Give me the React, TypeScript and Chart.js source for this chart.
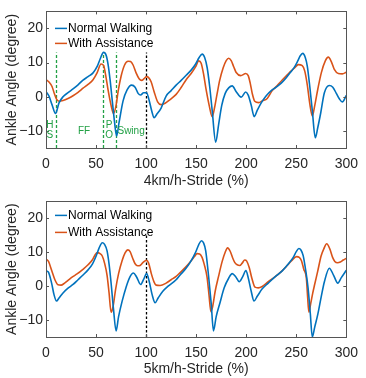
import React, { useEffect, useRef } from 'react';
import { Chart, registerables } from 'chart.js';

Chart.register(...registerables);

// ---------- data ----------
const xTicks = [0, 50, 100, 150, 200, 250, 300];
const yTicks = [-10, 0, 10, 20];
const seriesNames = ['Normal Walking', 'With Assistance'];
const titles = ['4km/h-Stride (%)', '5km/h-Stride (%)'];
const yTitle = 'Ankle Angle (degree)';

// 4 km/h, normal walking
const topNormalX = [0, 3, 6, 9.5, 13, 17, 22, 27, 32, 37, 42, 47, 51, 54, 57.5, 60, 62, 64, 66.5, 68.5, 70.5, 73, 77, 81, 85.5, 89, 92, 94.5, 97.5, 100.5, 103, 105.5, 108, 111, 115, 120, 125, 130, 135, 140, 145, 149.5, 153, 156, 158.5, 161, 163.5, 166, 169.5, 172.5, 175.5, 179, 182.5, 186, 190, 195, 199.5, 202, 205, 208, 211, 215, 220, 225, 230, 235, 240, 244, 248, 251.5, 254, 256.5, 259, 261, 263.5, 266, 269, 271.5, 274.5, 278, 283, 286.5, 290, 293, 296, 300];
const topNormalY = [1.5, 0.2, -2.3, -4.9, -1.8, 0, 1.2, 2.3, 3.5, 4.9, 5.9, 7.0, 8.8, 11, 13, 12.2, 9.5, 5, -2, -7.5, -11.5, -7.5, -1.2, 2, 3.4, 2.8, 1, 0.5, 1.2, 1.2, -1, -4, -6.1, -5, -3.3, 0.2, 1.8, 3.4, 4.8, 6.3, 7.8, 9.6, 11.5, 12.5, 11.5, 8.5, 3, -4, -13.3, -8, -2.6, 1, 2.6, 3.2, 1.5, -0.1, 1.4, 0.5, -2.5, -5.8, -4, -1.8, 0.3, 1.8, 2.8, 4, 5.6, 7.1, 8.6, 10.5, 12, 12.7, 11.5, 9, 3, -4, -12, -9, -4.6, 1.1, 3.3, 2.8, 1, -0.6, -1.5, 0.4];

// 4 km/h, with assistance
const topAssistX = [0, 3, 6, 8.5, 10.5, 13, 17, 22, 27, 32, 37, 42, 47, 51, 55, 57.5, 59.5, 62, 65, 67.5, 70, 72, 75, 78.5, 82, 84.5, 87, 90, 93, 95.5, 98, 100.5, 102.5, 105, 108, 111.5, 115, 119, 124, 130, 135, 140, 145, 149.5, 152.5, 155, 157.5, 160, 163, 166, 168.5, 171, 173.5, 177, 180, 182.5, 185, 187.5, 190, 194.5, 199.5, 202, 204, 206, 208.5, 212.5, 216, 221, 226, 231, 236, 241, 245, 248.5, 252, 256, 258.5, 261, 263.5, 266, 268.5, 271.5, 275, 279, 282, 285, 288, 292, 296, 300];
const topAssistY = [5.0, 4.3, 3, 0.8, -0.7, -1.3, -1.1, -0.5, 0.3, 1.3, 2.5, 3.6, 5.0, 7.0, 9.6, 9.2, 6.5, 2, -2.5, -4.9, -2.5, 1.5, 6, 9.3, 10.4, 10.3, 9.3, 7, 5.3, 4.8, 5.3, 5.9, 5.6, 4.4, 1.5, -1.5, -2.3, -1.9, -0.8, 0.7, 2.7, 5, 6.8, 8.8, 10.5, 9.8, 6.5, 2, -2.5, -5.8, -3, 1, 4.8, 8.5, 10.6, 11.3, 10.6, 8.8, 7.1, 6.2, 6.8, 6.2, 4, 1, -1.3, -1.7, -1.2, -0.5, 1.8, 3.3, 4.9, 6.4, 7.6, 8.5, 9.4, 9.1, 7.5, 3.5, -2, -5.6, -2.5, 2.2, 7, 10.5, 11.6, 10.3, 8, 6.8, 6.7, 7.2];

// 5 km/h, normal walking
const botNormalX = [0, 2.3, 5.6, 8, 10.5, 13, 17, 22, 27, 32, 37, 42, 46.5, 50, 53, 56.2, 58.5, 61, 63, 65, 67.5, 70, 72.5, 76, 80, 84, 87.3, 90.5, 94.5, 97.5, 100.5, 103, 106, 109, 112, 116.7, 122, 129.7, 134, 139.5, 144, 149.3, 152.5, 155.2, 157.5, 159.5, 162.4, 165, 167.3, 170, 173.8, 178, 182.6, 186, 189.5, 193, 196.5, 199.7, 202, 205, 207.8, 211, 216, 222, 229, 236, 242.2, 247, 250, 252.6, 254.8, 256.9, 259.5, 261.8, 264, 266, 268.5, 271.6, 275, 278.1, 283, 287.3, 291.5, 295, 300];
const botNormalY = [4.5, 4.2, 0.9, -2.5, -4.4, -3.5, -2, -0.6, 0.5, 1.9, 3.3, 4.8, 6.6, 8.8, 11.2, 12.8, 12.3, 10.4, 6.5, 1, -7, -13.2, -9, -4.5, -0.3, 2.8, 3.9, 2.7, 0.5, 2, 3.7, 1.5, -2.5, -4.9, -3.5, -1.5, 0, 1.8, 3.3, 5.1, 7, 9.9, 12.2, 13.4, 12.7, 10.5, 3, -5, -13.2, -9, -4.9, -0.5, 2.4, 3.7, 2.8, 1.3, 2.8, 4.6, 2.5, -1.5, -4.4, -3, -0.8, 0.9, 2.8, 4.5, 6.6, 8.5, 10.2, 11.1, 10.6, 9, 4.5, -0.6, -8, -15, -12, -8.2, -3, 1.3, 5.3, 3.2, 0.9, 2.5, 4.7];

// 5 km/h, with assistance
const botAssistX = [0, 2.5, 5.6, 9, 12, 15, 18.6, 22, 26.8, 31, 36.6, 42, 46.4, 49, 51.3, 54, 56.2, 58.5, 61, 63, 65, 67, 69.5, 72.5, 76, 79, 81.7, 84, 86.5, 89, 91.5, 94, 97, 100.3, 102.5, 105.2, 108, 110, 114, 120, 125, 129.7, 134, 139.5, 145, 148.5, 151, 153.5, 155.9, 158, 160.8, 162.8, 164.7, 166.5, 169, 172.3, 176, 179, 181.4, 184, 186.5, 188.5, 191, 193.5, 196, 198.5, 200.5, 203, 205.5, 208.8, 212, 216, 222, 229, 235, 240, 245.4, 250.3, 253, 255.2, 257.5, 260.1, 261.3, 262.6, 264.5, 266.5, 268.3, 271.5, 274.8, 277.5, 280.4, 283.5, 286.3, 288.5, 291.2, 294, 297, 300];
const botAssistY = [8.0, 7.3, 4.7, 1.8, 0.4, 0.3, 0.9, 1.7, 2.8, 3.6, 4.9, 6.3, 7.8, 9.2, 9.9, 9.6, 8.9, 6.8, 3.2, -2, -7.7, -6, -1, 3.7, 7.5, 9.8, 10.7, 10.2, 8.3, 6.6, 6, 6.1, 7, 7.6, 6.8, 3.7, 1.2, 0.3, 0.2, 0.9, 1.9, 2.8, 4, 5.6, 7.5, 8.8, 9.6, 9.5, 8.5, 6.5, 2.8, -2.5, -7.5, -6, -1.5, 2.8, 7.3, 10, 11.3, 10.3, 8.3, 7, 6.3, 6.1, 6.8, 7.7, 7.4, 5.5, 2.5, -0.3, -0.5, -0.1, 1.3, 2.8, 4.3, 5.8, 7.5, 8.7, 8.5, 7.5, 5, 2.3, -3, -7.7, -5, -2, 0.4, 4.5, 8.9, 11, 12.5, 11, 8.5, 7.3, 6.9, 7.1, 7.7, 8.2];

// gait phase markers (top panel)
const phaseLines = [9.5, 57, 69.5];
const phaseLabels = [
  { text: 'H', x: 3.9, y: -8.3 },
  { text: 'S', x: 3.9, y: -11.4 },
  { text: 'FF', x: 38, y: -10 },
  { text: 'P', x: 63, y: -8.3 },
  { text: 'O', x: 63, y: -11.4 },
  { text: 'Swing', x: 85, y: -10 },
];
const strideLine = 100;

// ---------- styling ----------
const BLUE = '#0072BD';
const RED = '#D95319';
const GREEN = '#22a045';
const AXIS = '#262626';
const FONT = "'Liberation Sans', Arial, sans-serif";

type Spec = {
  nx: number[]; ny: number[]; ax: number[]; ay: number[];
  title: string; height: number; padTop: number; xAxisH: number;
  legendY: number[]; phase: boolean; strideTop: number;
};

function buildChart(canvas: HTMLCanvasElement, spec: Spec) {
  const deco = {
    id: 'deco',
    beforeDatasetsDraw(chart: any) {
      const { ctx, chartArea: ca, scales } = chart;
      const xs = scales.x, ys = scales.y;
      ctx.save();
      ctx.lineWidth = 1.3;
      if (spec.phase) {
        ctx.strokeStyle = GREEN;
        ctx.setLineDash([3, 2]);
        phaseLines.forEach((v) => {
          const px = Math.round(xs.getPixelForValue(v)) + 0.5;
          ctx.beginPath();
          ctx.moveTo(px, ca.bottom);
          ctx.lineTo(px, ys.getPixelForValue(13));
          ctx.stroke();
        });
      }
      ctx.strokeStyle = '#000';
      ctx.setLineDash([2.5, 2]);
      const sx = Math.round(xs.getPixelForValue(strideLine)) + 0.5;
      ctx.beginPath();
      ctx.moveTo(sx, ca.bottom);
      ctx.lineTo(sx, ys.getPixelForValue(spec.strideTop));
      ctx.stroke();
      ctx.restore();
    },
    afterDatasetsDraw(chart: any) {
      const { ctx, chartArea: ca, scales } = chart;
      const xs = scales.x, ys = scales.y;
      ctx.save();
      // frame
      ctx.strokeStyle = '#555';
      ctx.lineWidth = 1;
      ctx.setLineDash([]);
      ctx.strokeRect(Math.round(ca.left) + 0.5, Math.round(ca.top) + 0.5, Math.round(ca.right - ca.left), Math.round(ca.bottom - ca.top));
      // inner ticks
      const tl = 3;
      ctx.beginPath();
      xTicks.forEach((v) => {
        const px = Math.round(xs.getPixelForValue(v)) + 0.5;
        ctx.moveTo(px, ca.bottom); ctx.lineTo(px, ca.bottom - tl);
        ctx.moveTo(px, ca.top); ctx.lineTo(px, ca.top + tl);
      });
      yTicks.forEach((v) => {
        const py = Math.round(ys.getPixelForValue(v)) + 0.5;
        ctx.moveTo(ca.left, py); ctx.lineTo(ca.left + tl, py);
        ctx.moveTo(ca.right, py); ctx.lineTo(ca.right - tl, py);
      });
      ctx.stroke();
      // phase labels
      if (spec.phase) {
        ctx.fillStyle = GREEN;
        ctx.font = `10px ${FONT}`;
        ctx.textAlign = 'center';
        ctx.textBaseline = 'middle';
        phaseLabels.forEach((l) => {
          ctx.fillText(l.text, xs.getPixelForValue(l.x), ys.getPixelForValue(l.y));
        });
      }
      // legend
      const colors = [BLUE, RED];
      ctx.font = `12px ${FONT}`;
      ctx.textAlign = 'left';
      ctx.textBaseline = 'middle';
      seriesNames.forEach((name, i) => {
        const y = ca.top + spec.legendY[i];
        ctx.strokeStyle = colors[i];
        ctx.lineWidth = 1.5;
        ctx.beginPath();
        ctx.moveTo(ca.left + 9, y);
        ctx.lineTo(ca.left + 21, y);
        ctx.stroke();
        ctx.fillStyle = '#000';
        ctx.fillText(name, ca.left + 22, y);
      });
      ctx.restore();
    },
  };

  const tickFont = { family: FONT, size: 14 };
  return new Chart(canvas, {
    type: 'line',
    data: {
      datasets: [
        {
          label: seriesNames[0],
          data: spec.nx.map((x, i) => ({ x, y: spec.ny[i] })),
          borderColor: BLUE, borderWidth: 1.6, pointRadius: 0,
          cubicInterpolationMode: 'monotone', fill: false,
        },
        {
          label: seriesNames[1],
          data: spec.ax.map((x, i) => ({ x, y: spec.ay[i] })),
          borderColor: RED, borderWidth: 1.6, pointRadius: 0,
          cubicInterpolationMode: 'monotone', fill: false,
        },
      ],
    },
    options: {
      animation: false,
      responsive: false,
      maintainAspectRatio: false,
      devicePixelRatio: 1,
      layout: { padding: { top: spec.padTop, right: 14, left: 0, bottom: 0 } },
      plugins: { legend: { display: false }, tooltip: { enabled: false } },
      scales: {
        x: {
          type: 'linear', min: 0, max: 300,
          afterBuildTicks: (s: any) => { s.ticks = xTicks.map((v) => ({ value: v })); },
          afterFit: (s: any) => { s.height = spec.xAxisH; },
          grid: { display: false, drawTicks: false },
          border: { display: false },
          ticks: { padding: 8, font: tickFont, color: AXIS, maxRotation: 0, autoSkip: false },
          title: { display: true, text: spec.title, font: tickFont, color: AXIS, padding: { top: 0, bottom: 0 } },
        },
        y: {
          type: 'linear', min: -15, max: 25,
          afterBuildTicks: (s: any) => { s.ticks = yTicks.map((v) => ({ value: v })); },
          afterFit: (s: any) => { s.width = 46; },
          grid: { display: false, drawTicks: false },
          border: { display: false },
          ticks: {
            padding: 3, font: tickFont, color: AXIS,
            callback: (v: any) => (Number(v) < 0 ? '\u2212' + Math.abs(Number(v)) : String(v)),
          },
          title: { display: true, text: yTitle, font: tickFont, color: AXIS, padding: { top: 4, bottom: 0 } },
        },
      },
    },
    plugins: [deco],
  } as any);
}

export default function App() {
  const ref1 = useRef<HTMLCanvasElement>(null);
  const ref2 = useRef<HTMLCanvasElement>(null);
  useEffect(() => {
    const c1 = buildChart(ref1.current!, {
      nx: topNormalX, ny: topNormalY, ax: topAssistX, ay: topAssistY,
      title: titles[0], height: 190, padTop: 4, xAxisH: 42,
      legendY: [17, 32], phase: true, strideTop: 13,
    });
    const c2 = buildChart(ref2.current!, {
      nx: botNormalX, ny: botNormalY, ax: botAssistX, ay: botAssistY,
      title: titles[1], height: 188, padTop: 5, xAxisH: 41,
      legendY: [14, 31], phase: false, strideTop: 15,
    });
    return () => { c1.destroy(); c2.destroy(); };
  }, []);
  return (
    <div style={{ position: 'absolute', left: 0, top: 0, width: 366, height: 378, background: '#fff' }}>
      <canvas ref={ref1} width={366} height={190} style={{ position: 'absolute', left: 0, top: 0, width: 366, height: 190 }} />
      <canvas ref={ref2} width={366} height={188} style={{ position: 'absolute', left: 0, top: 190, width: 366, height: 188 }} />
    </div>
  );
}
